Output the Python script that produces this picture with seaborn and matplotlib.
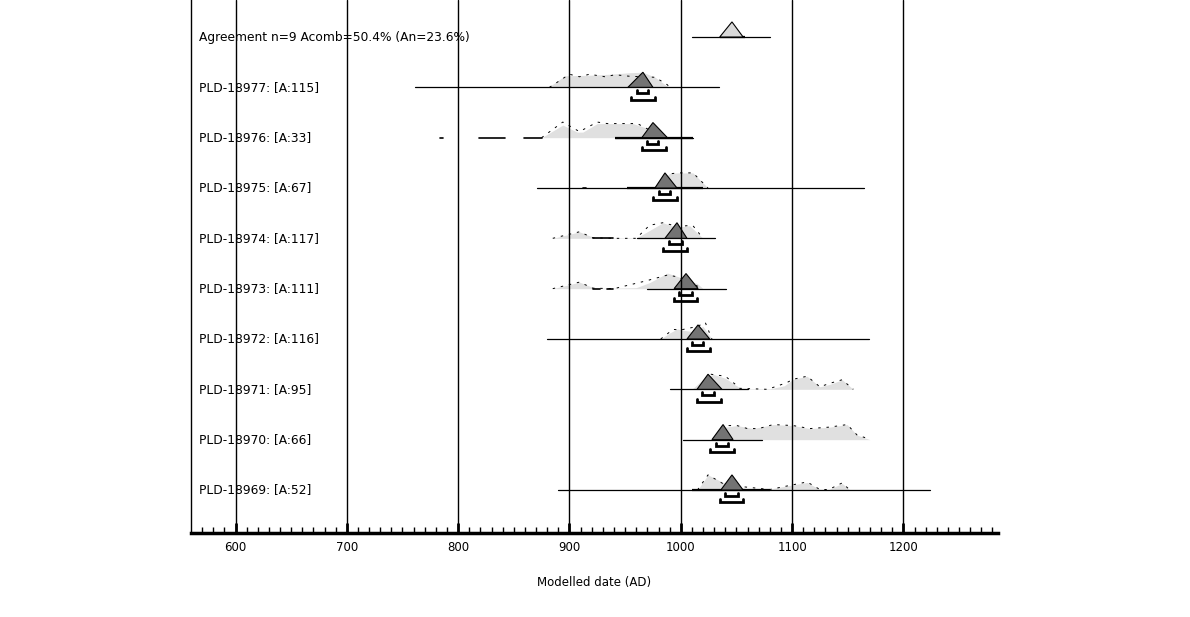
import numpy as np
import pandas as pd
import matplotlib
matplotlib.use("Agg")
import matplotlib.pyplot as plt
import seaborn as sns

# ---------------- data ----------------
labels = ["Agreement n=9 Acomb=50.4% (An=23.6%)",
          "PLD-18977: [A:115]", "PLD-18976: [A:33]", "PLD-18975: [A:67]",
          "PLD-18974: [A:117]", "PLD-18973: [A:111]", "PLD-18972: [A:116]",
          "PLD-18971: [A:95]", "PLD-18970: [A:66]", "PLD-18969: [A:52]"]

# full range line (years AD)
range_lo = [1010, 761, 941, 871, 961, 970, 880, 990, 1002, 890]
range_hi = [1080, 1034, 1011, 1165, 1031, 1041, 1169, 1060, 1073, 1224]

# thicker core segments
core_lo = [1035, None, 941, 952, None, None, None, None, None, 1010]
core_hi = [1058, None, 1011, 1020, None, None, None, None, None, 1080]

# short tail dashes on the baseline
tails = [[], [], [(784, 786), (819, 842), (859, 875)], [(912, 915)],
         [(921, 939)], [(921, 927), (934, 939)], [], [], [], []]

# posterior (dark triangle): left, peak, right, height
post_left = [1035, 952.5, 965, 976.8, 985.8, 994, 1005.6, 1014.6, 1028, 1036]
post_peak = [1046, 966, 975, 985.8, 996.6, 1004.7, 1015.5, 1024.5, 1038, 1046]
post_right = [1056, 975, 988, 996.6, 1005.6, 1015.6, 1026, 1037, 1047, 1056]
post_h = [0.30, 0.30, 0.30, 0.30, 0.31, 0.30, 0.28, 0.30, 0.30, 0.30]

# 68.2% and 95.4% range brackets
in_lo = [None, 960.6, 969.6, 980.4, 989.4, 998.4, 1010, 1019, 1031.6, 1040]
in_hi = [None, 970.5, 979.5, 990.3, 1001, 1010, 1020, 1030, 1042.4, 1051]
out_lo = [None, 955, 965, 975, 984, 994, 1005.6, 1014.6, 1026, 1035]
out_hi = [None, 976.8, 986.7, 996.6, 1005.6, 1014.6, 1026, 1036, 1048, 1056]

# likelihood distributions (light grey fill)
like_x = [
    [],
    [881, 896, 918, 936, 954, 966, 977, 986, 990],
    [875, 894, 907, 912, 925, 934, 957, 975, 980],
    [975, 990, 997, 1011, 1024.5],
    [885, 900, 909, 918, 925, 960, 966, 984, 996, 1008, 1020],
    [885, 900, 909, 918, 925, 939, 960, 972, 988, 1000, 1015, 1020],
    [982, 990, 997, 1003, 1010, 1020, 1028],
    [1010, 1020, 1029, 1040, 1053, 1058, 1080, 1093, 1101, 1113.5, 1125, 1134, 1145, 1155],
    [1030, 1040, 1050.5, 1065, 1083, 1101, 1116, 1134, 1149.5, 1158.5, 1170],
    [1015, 1024.5, 1038, 1046, 1060, 1080, 1095, 1113.5, 1125, 1133, 1145, 1152],
]
like_h = [
    [],
    [0, 0.23, 0.24, 0.26, 0.29, 0.30, 0.20, 0.05, 0],
    [0, 0.25, 0.11, 0.11, 0.28, 0.28, 0.28, 0.15, 0],
    [0, 0.29, 0.30, 0.30, 0],
    [0, 0.08, 0.13, 0.05, 0.01, 0.01, 0.08, 0.31, 0.22, 0.25, 0],
    [0, 0.08, 0.13, 0.05, 0.01, 0.01, 0.02, 0.12, 0.31, 0.22, 0.10, 0],
    [0, 0.12, 0.20, 0.17, 0.15, 0.25, 0],
    [0, 0.20, 0.30, 0.22, 0.03, 0.01, 0.01, 0.07, 0.20, 0.26, 0.05, 0.10, 0.19, 0],
    [0, 0.25, 0.28, 0.22, 0.30, 0.28, 0.22, 0.25, 0.30, 0.09, 0],
    [0, 0.30, 0.15, 0.10, 0.02, 0.02, 0.08, 0.15, 0.01, 0.01, 0.13, 0],
]

# unmodelled outline (thin dashed)
out_x = [
    [],
    [882, 900, 909, 918, 932, 941, 954, 977, 988, 990],
    [875, 894, 909, 925, 934, 961, 979],
    [980, 990, 997, 1011, 1024.5],
    [885, 909, 921, 940, 960, 972, 984, 998, 1005, 1011, 1020],
    [885, 909, 921, 940, 968, 988, 996, 1020],
    [982, 993, 1000, 1015, 1022, 1028],
    [1027, 1040, 1049, 1053, 1078, 1095, 1101, 1113.5, 1125, 1134, 1145, 1155],
    [1043, 1050.5, 1060, 1070, 1083, 1101, 1116, 1134, 1149.5, 1158.5, 1170],
    [1015, 1024.5, 1040, 1080, 1100, 1113.5, 1125, 1133, 1145, 1152],
]
out_h = [
    [],
    [0, 0.26, 0.21, 0.26, 0.21, 0.25, 0.22, 0.20, 0.05, 0],
    [0, 0.31, 0.12, 0.31, 0.28, 0.28, 0.07],
    [0.10, 0.28, 0.30, 0.30, 0],
    [0, 0.13, 0.01, 0.0, 0.0, 0.26, 0.31, 0.23, 0.25, 0.25, 0],
    [0, 0.13, 0.01, 0.0, 0.15, 0.27, 0.24, 0],
    [0, 0.19, 0.18, 0.25, 0.33, 0],
    [0.30, 0.26, 0.10, 0.02, 0.0, 0.13, 0.20, 0.26, 0.05, 0.12, 0.19, 0],
    [0.28, 0.28, 0.22, 0.22, 0.30, 0.28, 0.22, 0.25, 0.30, 0.09, 0.01],
    [0, 0.30, 0.10, 0.01, 0.10, 0.16, 0.01, 0.01, 0.14, 0],
]

grid_years = [600, 700, 800, 900, 1000, 1100, 1200]
xmin, xmax = 560, 1285

# ---------------- plot ----------------
sns.set_theme(style="white")
plt.rcParams['font.family'] = ['DejaVu Sans']
plt.rcParams['text.color'] = 'black'
plt.rcParams['axes.labelcolor'] = 'black'
plt.rcParams['xtick.color'] = 'black'

fig = plt.figure(figsize=(11.9, 6.17), dpi=100)
ax = fig.add_axes([191 / 1190, 84 / 617, 807 / 1190, 533 / 617])

n = len(labels)
ypos = [n - i for i in range(n)]  # agreement at top

# range lines through seaborn
rows = []
for i in range(n):
    rows.append(dict(row=i, x=range_lo[i], y=ypos[i]))
    rows.append(dict(row=i, x=range_hi[i], y=ypos[i]))
df = pd.DataFrame(rows)
sns.lineplot(data=df, x="x", y="y", units="row", estimator=None,
             color="black", lw=0.9, ax=ax, zorder=3, legend=False)

for i in range(n):
    y0 = ypos[i]
    if core_lo[i] is not None:
        ax.plot([core_lo[i], core_hi[i]], [y0, y0], color="black", lw=1.6, zorder=3,
                solid_capstyle="butt")
    for a, b in tails[i]:
        ax.plot([a, b], [y0, y0], color="black", lw=1.2, zorder=3)
    if like_x[i]:
        ax.fill_between(like_x[i], y0, y0 + np.array(like_h[i]),
                        color="#e0e0e0", lw=0, zorder=2)
    if out_x[i]:
        ax.plot(out_x[i], y0 + np.array(out_h[i]), color="black", lw=0.7,
                ls=(0, (2.5, 6)), zorder=3.5)
    tri_x = [post_left[i], post_peak[i], post_right[i]]
    tri_y = [y0, y0 + post_h[i], y0]
    fc = "#d9d9d9" if i == 0 else "#737373"
    ax.fill(tri_x, tri_y, facecolor=fc, edgecolor="black", lw=0.8, zorder=4)
    if in_lo[i] is not None:
        for lo, hi, off in [(in_lo[i], in_hi[i], 0.12), (out_lo[i], out_hi[i], 0.245)]:
            yb = y0 - off
            ax.plot([lo, lo, hi, hi], [yb + 0.06, yb, yb, yb + 0.06],
                    color="black", lw=2, zorder=4, solid_joinstyle="miter")
    ax.text(567, y0, labels[i], ha="left", va="center", fontsize=8.8,
            color="black", zorder=5)

for g in grid_years:
    ax.axvline(g, color="black", lw=1, zorder=6)

ax.set_xlim(xmin, xmax)
ax.set_ylim(1 - 43 / 50.33, n + 37 / 50.33)

for s in ["top", "right"]:
    ax.spines[s].set_visible(False)
ax.spines["left"].set_color("black")
ax.spines["left"].set_linewidth(1)
ax.spines["bottom"].set_color("black")
ax.spines["bottom"].set_linewidth(2.5)

ax.set_yticks([])
ax.set_ylabel("")
ax.set_xticks(grid_years)
ax.set_xticks(np.arange(570, 1290, 10), minor=True)
ax.tick_params(axis="x", which="major", direction="in", length=7, width=2,
               color="black", labelcolor="black", labelsize=8.5, pad=5.5, bottom=True)
ax.tick_params(axis="x", which="minor", direction="in", length=4, width=1,
               color="black", bottom=True)
ax.set_xlabel("Modelled date (AD)", fontsize=8.5, labelpad=16, color="black")

fig.savefig("out.png", dpi=100)
